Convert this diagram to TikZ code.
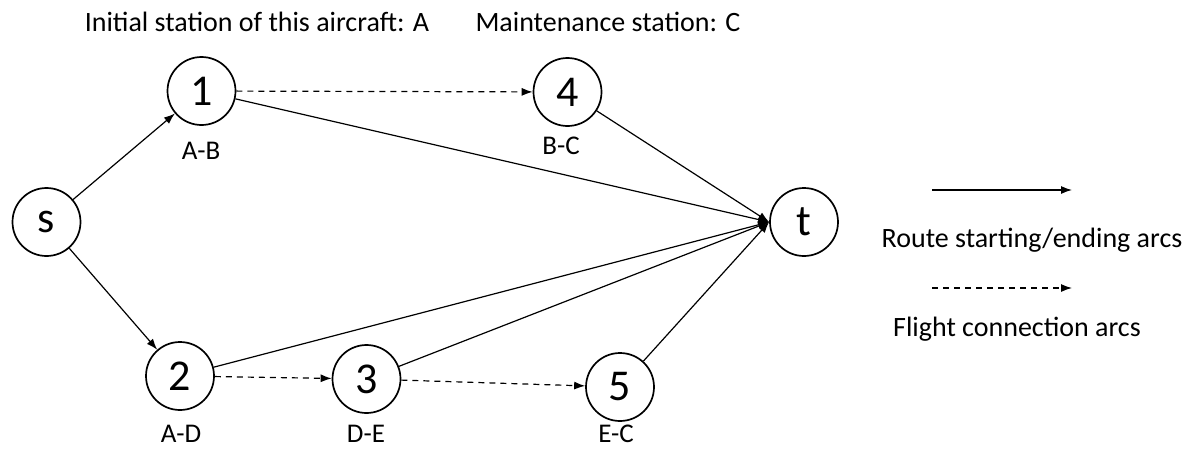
\documentclass[tikz,border=0pt]{standalone}
\usepackage{fontspec}
\setmainfont{Carlito}
\usetikzlibrary{arrows.meta}
\tikzset{
  vertex/.style={circle, draw, line width=1.7pt, minimum size=68pt, inner sep=0pt,
    font=\fontsize{44}{48}\selectfont},
  lbl/.style={font=\fontsize{27}{30}\selectfont, inner sep=0pt},
  txt/.style={font=\fontsize{28}{32}\selectfont, inner sep=0pt},
  arc/.style={line width=1.2pt, -{Latex[length=11pt,width=8pt]}},
  conn/.style={arc, dash pattern=on 6pt off 5pt},
}
\begin{document}
\begin{tikzpicture}[x=1pt,y=-1pt]
\useasboundingbox (0,0) rectangle (1186,450);
% vertices
\node[vertex] (s) at (46.5,222) {s};
\node[vertex] (n1) at (201.5,91) {1};
\node[vertex] (n4) at (567.5,92) {4};
\node[vertex] (t) at (804,222) {t};
\node[vertex] (n2) at (180,376) {2};
\node[vertex] (n3) at (366.5,379) {3};
\node[vertex] (n5) at (620,387) {5};
% flight labels
\node[lbl] (l1) at (201,151) {A-B};
\node[lbl] (l4) at (561,146) {B-C};
\node[lbl] (l2) at (181,434) {A-D};
\node[lbl] (l3) at (366,434) {D-E};
\node[lbl] (l5) at (616,434) {E-C};
\node[txt] (h1) at (257,22) {Initial station of this aircraft: A};
\node[txt] (h2) at (608,22) {Maintenance station: C};
% route start/end arcs
\coordinate (tin) at (t.west);
\draw[arc] (s) -- (n1);
\draw[arc] (s) -- (n2);
\draw[arc] (n1) -- (tin);
\draw[arc] (n4) -- (tin);
\draw[arc] (n2) -- (tin);
\draw[arc] (n3) -- (tin);
\draw[arc] (n5) -- (tin);
% flight connection arcs
\draw[conn] (n1) -- (n4);
\draw[conn] (n2) -- (n3);
\draw[conn] (n3) -- (n5);
% legend
\coordinate (a1) at (932,190);
\coordinate (b1) at (1072,190);
\coordinate (a2) at (932,288);
\coordinate (b2) at (1072,288);
\draw[arc] (a1) -- (b1);
\node[txt] (r1) at (1032,240) {Route starting/ending arcs};
\draw[conn] (a2) -- (b2);
\node[txt] (r2) at (1017,329) {Flight connection arcs};
\end{tikzpicture}
\end{document}
